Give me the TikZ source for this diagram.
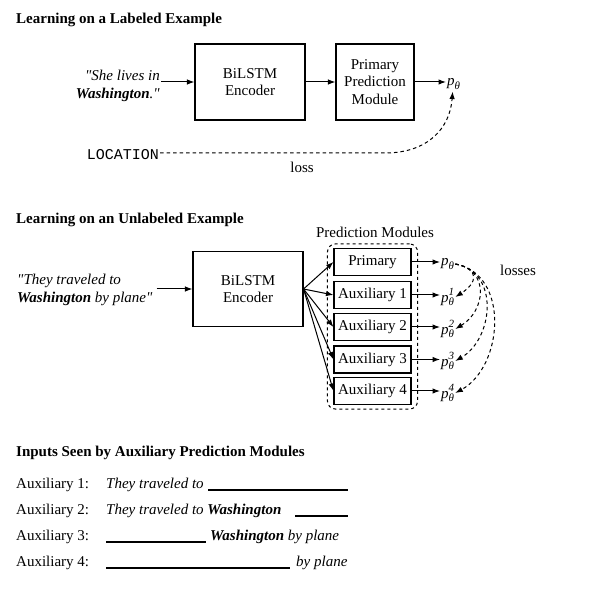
\documentclass[tikz,border=0pt]{standalone}
\usepackage{fontspec}
\setmainfont{Liberation Serif}[Ligatures=TeXOff]
\setmonofont{Liberation Mono}
\usetikzlibrary{arrows.meta,fit,calc}
\newcommand\fs{\fontsize{15}{17.5}\selectfont}
\newcommand\smallfs{\fontsize{11}{12}\selectfont}
\newcommand\qq{"}
\newcommand\pth[1]{\textit{p}\rlap{\raisebox{-3.5pt}{\smallfs\textit{θ}}}\rlap{\raisebox{6.5pt}{\smallfs\textit{#1}}}\hphantom{\smallfs\textit{θ}}}
\tikzset{
  txt/.style={font=\fs, inner sep=1pt},
  ttl/.style={font=\fs\bfseries, inner sep=0pt, anchor=base west},
  box/.style={draw, line width=1.1pt, font=\fs, align=center, inner sep=0pt},
  mod/.style={draw, line width=1.1pt, font=\fs, minimum width=77pt, minimum height=27pt, inner sep=0pt},
  pn/.style={font=\fs, inner sep=1pt, anchor=west},
  conn/.style={line width=1pt, ->},
  dconn/.style={line width=1pt, dash pattern=on 3.5pt off 3pt, ->},
  ul/.style={line width=1.5pt},
}
\begin{document}
\begin{tikzpicture}[x=1pt, y=-1pt, >={Latex[length=7.5pt,width=5.5pt]}]
\useasboundingbox (0,0) rectangle (597,593);

% ---- Section 1
\node[ttl] (t1) at (16,24) {Learning on a Labeled Example};
\node[box, minimum width=110pt, minimum height=76pt] (enc1) at (250,82) {BiLSTM\\Encoder};
\node[box, minimum width=78pt, minimum height=76pt] (prim1) at (375,82) {Primary\\Prediction\\Module};
\node[txt, anchor=east, align=right] (in1) at (161,86) {\textit{\qq She lives in}\\\textit{\textbf{Washington}.\qq}};
\node[pn] (p1) at (446,84) {\pth{}};
\draw[conn] (in1.east |- enc1.west) -- (enc1.west);
\draw[conn] (enc1.east) -- (prim1.west);
\draw[conn] (prim1.east) -- (prim1.east -| p1.west);
\node[txt, anchor=east] (loc) at (160,155) {\ttfamily LOCATION};
\coordinate (bend) at (385,153);
\draw[dconn] (loc.east |- bend) -- (bend) .. controls (428,153) and (450,128) .. ($(p1.south)+(-1,1)$);
\node[txt] (loss) at (302,167) {loss};

% ---- Section 2
\node[ttl] (t2) at (16,223.5) {Learning on an Unlabeled Example};
\node[box, minimum width=110pt, minimum height=75pt] (enc2) at (248,289) {BiLSTM\\Encoder};
\node[txt, anchor=west, align=left] (in2) at (16,290) {\textit{\qq They traveled to}\\\textit{\textbf{Washington} by plane\qq}};
\draw[conn] ($(in2.east |- enc2.west)+(3,0)$) -- (enc2.west);

\node[mod] (m0) at (372.5,262) {Primary};
\node[mod] (m1) at (372.5,295) {Auxiliary 1};
\node[mod] (m2) at (372.5,327) {Auxiliary 2};
\node[mod] (m3) at (372.5,359.5) {Auxiliary 3};
\node[mod] (m4) at (372.5,391) {Auxiliary 4};
\node[draw, dashed, line width=1pt, rounded corners=8pt, fit=(m0)(m4), inner xsep=6pt, inner ysep=4pt] (pm) {};
\node[txt] (pmlab) at (375,232) {Prediction Modules};

\node[pn] (q0) at (440,264) {\pth{}};
\node[pn] (q1) at (440,297) {\pth{1}};
\node[pn] (q2) at (440,329) {\pth{2}};
\node[pn] (q3) at (440,361) {\pth{3}};
\node[pn] (q4) at (440,393) {\pth{4}};
\foreach \i in {0,...,4}{
  \draw[conn] (enc2.east) -- (m\i.west);
  \draw[conn] (m\i.east) -- (m\i.east -| q\i.west);
}
\draw[dconn] (q0.east) .. controls +(25,5) and +(22,-14) .. (q1.east);
\draw[dconn] (q0.east) .. controls +(35,6) and +(30,-18) .. (q2.east);
\draw[dconn] (q0.east) .. controls +(45,8) and +(38,-22) .. (q3.east);
\draw[dconn] (q0.east) .. controls +(55,10) and +(48,-26) .. (q4.east);
\node[txt] (losses) at (518,270) {losses};

% ---- Section 3
\node[ttl] (t3) at (16,456) {Inputs Seen by Auxiliary Prediction Modules};
\node[txt, anchor=base west, inner sep=0pt] (a1) at (16,488) {Auxiliary 1:};
\node[txt, anchor=base west, inner sep=0pt] (a2) at (16,514) {Auxiliary 2:};
\node[txt, anchor=base west, inner sep=0pt] (a3) at (16,540) {Auxiliary 3:};
\node[txt, anchor=base west, inner sep=0pt] (a4) at (16,566) {Auxiliary 4:};
\node[txt, anchor=base west, inner sep=0pt] (s1) at (106,488) {\textit{They traveled to}};
\draw[ul] (208,490) -- (348,490);
\node[txt, anchor=base west, inner sep=0pt] (s2) at (106,514) {\textit{They traveled to \textbf{Washington}}};
\draw[ul] (295,516) -- (348,516);
\draw[ul] (106,542) -- (206,542);
\node[txt, anchor=base west, inner sep=0pt] (s3) at (210,540) {\textit{\textbf{Washington} by plane}};
\draw[ul] (106,568) -- (290,568);
\node[txt, anchor=base west, inner sep=0pt] (s4) at (296,566) {\textit{by plane}};
\end{tikzpicture}
\end{document}
